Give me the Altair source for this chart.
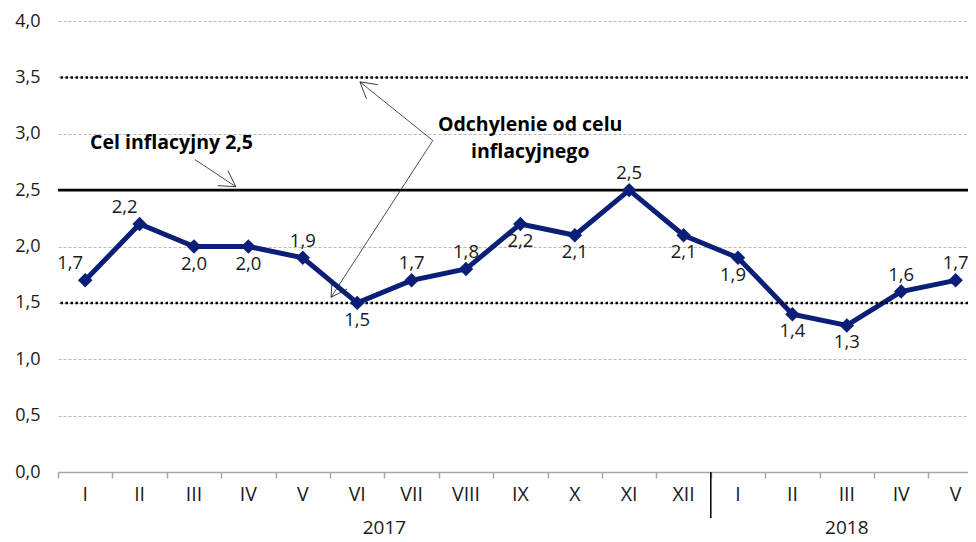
import math
import altair as alt
import pandas as pd

# ---------------- data ----------------
months = ["I", "II", "III", "IV", "V", "VI", "VII", "VIII", "IX", "X", "XI", "XII",
          "I", "II", "III", "IV", "V"]
values = [1.7, 2.2, 2.0, 2.0, 1.9, 1.5, 1.7, 1.8, 2.2, 2.1, 2.5, 2.1,
          1.9, 1.4, 1.3, 1.6, 1.7]
label_side = ["above-left", "above-left", "below", "below", "above", "below", "above",
              "above", "below", "below", "above", "below", "below-left", "below",
              "below", "above", "above"]
years = ["2017", "2018"]
year_centers = [6.0, 14.5]
year_split = [12]
target_line = [2.5]
band_lines = [1.5, 3.5]
y_ticks = [0.0, 0.5, 1.0, 1.5, 2.0, 2.5, 3.0, 3.5, 4.0]

annot_text = ["Cel inflacyjny 2,5", "Odchylenie od celu", "inflacyjnego"]
annot_x = [0.59, 8.68, 8.68]
annot_y = [2.92, 3.075, 2.835]
annot_align = ["left", "center", "center"]

arrow_x0 = [2.52, 6.89, 6.89]
arrow_y0 = [2.77, 2.94, 2.94]
arrow_x1 = [3.27, 5.55, 5.02]
arrow_y1 = [2.53, 3.46, 1.55]

# ---------------- layout ----------------
W, H = 910, 451
PX_PER_MONTH = 54.4
XMAX = W / PX_PER_MONTH
PX_PER_UNIT = H / 4.0
NAVY = "#0b1f78"
FONT = "Open Sans"
TXT = "#1a1a1a"

series = pd.DataFrame({
    "pos": [i + 0.5 for i in range(len(values))],
    "month": months,
    "value": values,
    "side": label_side,
})
series["label"] = [f"{v:.1f}".replace(".", ",") for v in values]

year_df = pd.DataFrame({"year": years, "pos": year_centers})
split_df = pd.DataFrame({"pos": year_split})
target_df = pd.DataFrame({"y": target_line})
band_df = pd.DataFrame({"y": band_lines})
annot_df = pd.DataFrame({"text": annot_text, "x": annot_x, "y": annot_y, "align": annot_align})

arrows = pd.DataFrame({"x0": arrow_x0, "y0": arrow_y0, "x1": arrow_x1, "y1": arrow_y1})
arrows["angle"] = [
    math.degrees(math.atan2((r.x1 - r.x0) * PX_PER_MONTH, (r.y1 - r.y0) * PX_PER_UNIT)) % 360
    for r in arrows.itertuples()
]

xs = alt.Scale(domain=[0, XMAX], nice=False, zero=False)
ys = alt.Scale(domain=[0, 4], nice=False)

x_axis = alt.Axis(values=list(range(17)), labels=False, grid=False, ticks=True,
                  tickSize=6, tickColor="#a6a6a6", tickWidth=1.5,
                  domainColor="#a6a6a6", domainWidth=1.5, title=None)
y_axis = alt.Axis(values=y_ticks,
                  labelExpr="replace(format(datum.value, '.1f'), '.', ',')",
                  grid=True, gridDash=[3, 2], gridColor="#b8b8b8", gridWidth=1,
                  domain=False, ticks=False, labelPadding=18, title=None,
                  labelFont=FONT, labelFontSize=18, labelColor=TXT)


def X(field):
    return alt.X(field, scale=xs, axis=x_axis)


def Y(field):
    return alt.Y(field, scale=ys, axis=y_axis)


line = alt.Chart(series).mark_line(color=NAVY, strokeWidth=5).encode(
    x=X("pos:Q"), y=Y("value:Q"))

points = alt.Chart(series).mark_point(shape="diamond", filled=True, size=210,
                                      color=NAVY, opacity=1).encode(
    x=X("pos:Q"), y=Y("value:Q"))

offsets = {"above": (0, -17), "below": (0, 17), "above-left": (-15, -17), "below-left": (-5, 17)}
label_layers = []
for side, (dx, dy) in offsets.items():
    label_layers.append(
        alt.Chart(series).transform_filter(alt.datum.side == side).mark_text(
            font=FONT, fontSize=18.5, color=TXT, dx=dx, dy=dy, baseline="middle"
        ).encode(x=X("pos:Q"), y=Y("value:Q"), text="label:N")
    )

bands = alt.Chart(band_df).mark_rule(color="black", strokeWidth=2.5,
                                     strokeDash=[2.5, 2.5]).encode(y=Y("y:Q"))
target = alt.Chart(target_df).mark_rule(color="black", strokeWidth=2.6).encode(y=Y("y:Q"))

shafts = alt.Chart(arrows).mark_rule(color="#222222", strokeWidth=0.8).encode(
    x=X("x0:Q"), x2="x1:Q", y=Y("y0:Q"), y2="y1:Q")
heads = alt.Chart(arrows).mark_point(
    shape="M -0.5 0.866 L 0 0 L 0.5 0.866", filled=False, size=1296,
    color="#222222", strokeWidth=0.8, opacity=1
).encode(x=X("x1:Q"), y=Y("y1:Q"), angle=alt.Angle("angle:Q", scale=None))

annot_layers = []
for al in ["left", "center"]:
    annot_layers.append(
        alt.Chart(annot_df).transform_filter(alt.datum.align == al).mark_text(
            font=FONT, fontSize=19.5, fontWeight="bold", color="black", align=al,
            baseline="middle"
        ).encode(x=X("x:Q"), y=Y("y:Q"), text="text:N")
    )

month_labels = alt.Chart(series).mark_text(font=FONT, fontSize=19.5, color=TXT,
                                           baseline="middle").encode(
    x=X("pos:Q"), y=alt.value(H + 23), text="month:N")
year_labels = alt.Chart(year_df).mark_text(font=FONT, fontSize=19, color=TXT,
                                           baseline="middle").encode(
    x=X("pos:Q"), y=alt.value(H + 56), text="year:N")
split = alt.Chart(split_df).mark_rule(color="black", strokeWidth=1.5).encode(
    x=X("pos:Q"), y=alt.value(H), y2=alt.value(H + 46))

chart = alt.layer(
    line, bands, target, shafts, heads, *annot_layers, points, *label_layers,
    month_labels, year_labels, split
).properties(
    width=W, height=H,
    autosize=alt.AutoSizeParams(type="none"),
    padding={"left": 50, "top": 13, "right": 0, "bottom": 70},
).configure_view(stroke=None)

chart.save("out.html", embed_options={"renderer": "svg", "actions": False})
